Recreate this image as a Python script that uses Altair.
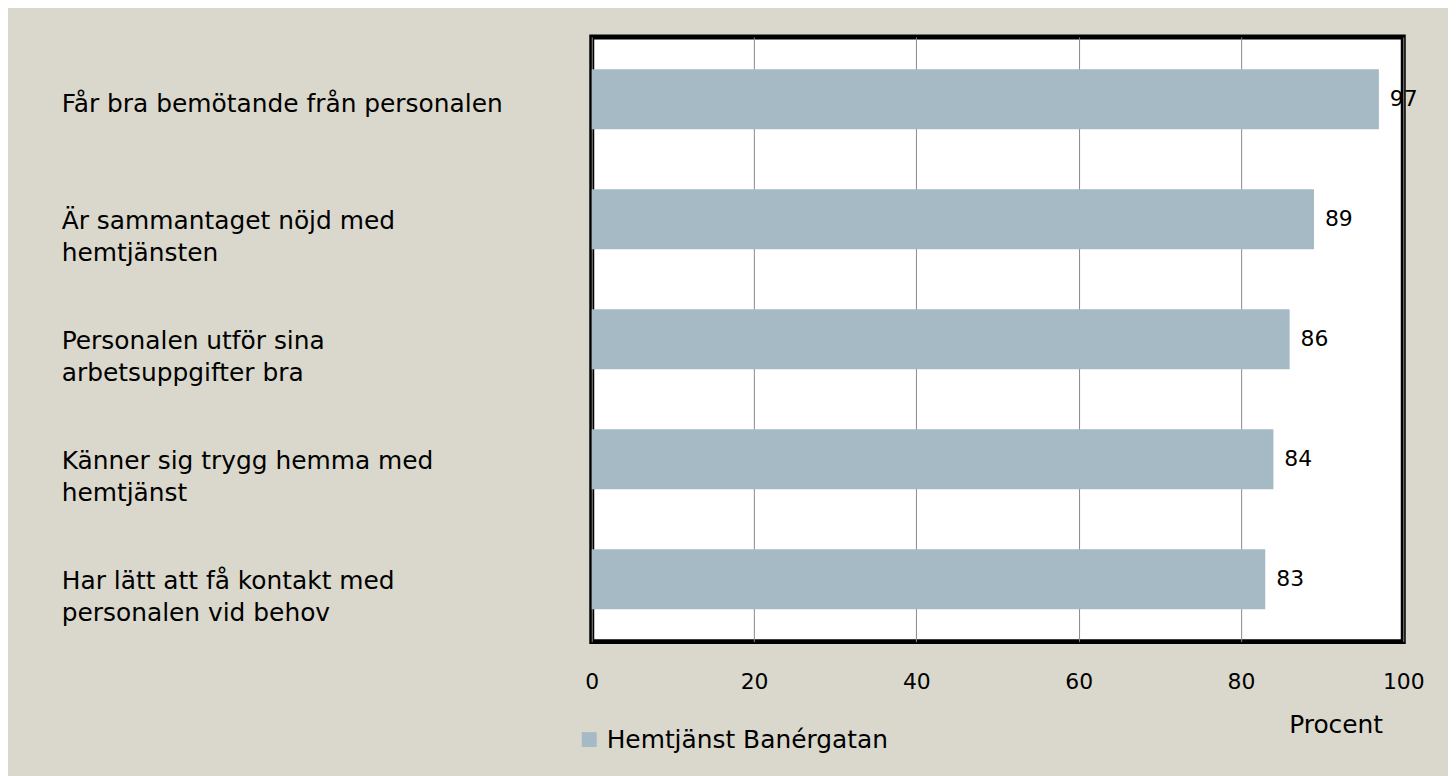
import altair as alt
import pandas as pd

categories = [
    "Får bra bemötande från personalen",
    "Är sammantaget nöjd med\nhemtjänsten",
    "Personalen utför sina\narbetsuppgifter bra",
    "Känner sig trygg hemma med\nhemtjänst",
    "Har lätt att få kontakt med\npersonalen vid behov",
]
values = [97, 89, 86, 84, 83]
series = "Hemtjänst Banérgatan"
x_ticks = [0, 20, 40, 60, 80, 100]
x_title = "Procent"

df = pd.DataFrame({
    "cat": categories,
    "value": values,
    "series": [series] * len(categories),
    "lines": [c.count("\n") + 1 for c in categories],
})

FONT = "DejaVu Sans"
BG = "#DAD8CC"
BAR = "#A6BAC5"

y_enc = alt.Y("cat:N", sort=categories, axis=None,
              scale=alt.Scale(paddingInner=0.5, paddingOuter=0.27))

base = alt.Chart(df)

bars = base.mark_bar(color=BAR).encode(
    x=alt.X("value:Q",
            scale=alt.Scale(domain=[0, 100], nice=False, zero=True),
            axis=alt.Axis(values=x_ticks, grid=True, gridColor="#888888", gridWidth=1,
                          domain=False, ticks=False, tickSize=0,
                          labelFont=FONT, labelFontSize=22, labelColor="#000000",
                          labelPadding=40, labelBaseline="middle", labelFlush=False,
                          title=x_title, titleFont=FONT, titleFontSize=25,
                          titleFontWeight="normal", titleColor="#000000",
                          titleX=748, titleY=83, titleAlign="center",
                          titleBaseline="middle", titleAngle=0)),
    y=y_enc,
    color=alt.Color("series:N", scale=alt.Scale(range=[BAR]),
                    legend=alt.Legend(title=None, orient="none", legendX=-15, legendY=694,
                                      symbolType="square", symbolSize=225,
                                      symbolStrokeWidth=0, labelFont=FONT,
                                      labelFontSize=25, labelColor="#000000",
                                      labelOffset=5, labelLimit=0, padding=0)),
)

value_labels = base.mark_text(font=FONT, fontSize=22, align="left", baseline="middle",
                              dx=11, color="#000000").encode(
    x="value:Q", y=y_enc, text="value:Q")

cat1 = base.transform_filter("datum.lines == 1").mark_text(
    font=FONT, fontSize=25, align="left", baseline="middle", dy=5,
    lineBreak="\n", lineHeight=32, color="#000000").encode(
    x=alt.value(-533), y=y_enc, text="cat:N")

cat2 = base.transform_filter("datum.lines == 2").mark_text(
    font=FONT, fontSize=25, align="left", baseline="middle", dy=2,
    lineBreak="\n", lineHeight=32, color="#000000").encode(
    x=alt.value(-533), y=y_enc, text="cat:N")

chart = alt.layer(bars, value_labels, cat1, cat2).properties(
    width=816, height=608,
    background=BG,
    autosize=alt.AutoSizeParams(type="none"),
    padding={"left": 587, "top": 27, "right": 45, "bottom": 133},
).configure_view(stroke="#000000", strokeWidth=5, fill="#FFFFFF")

chart.save("out.html", embed_options={"renderer": "svg", "actions": False})
